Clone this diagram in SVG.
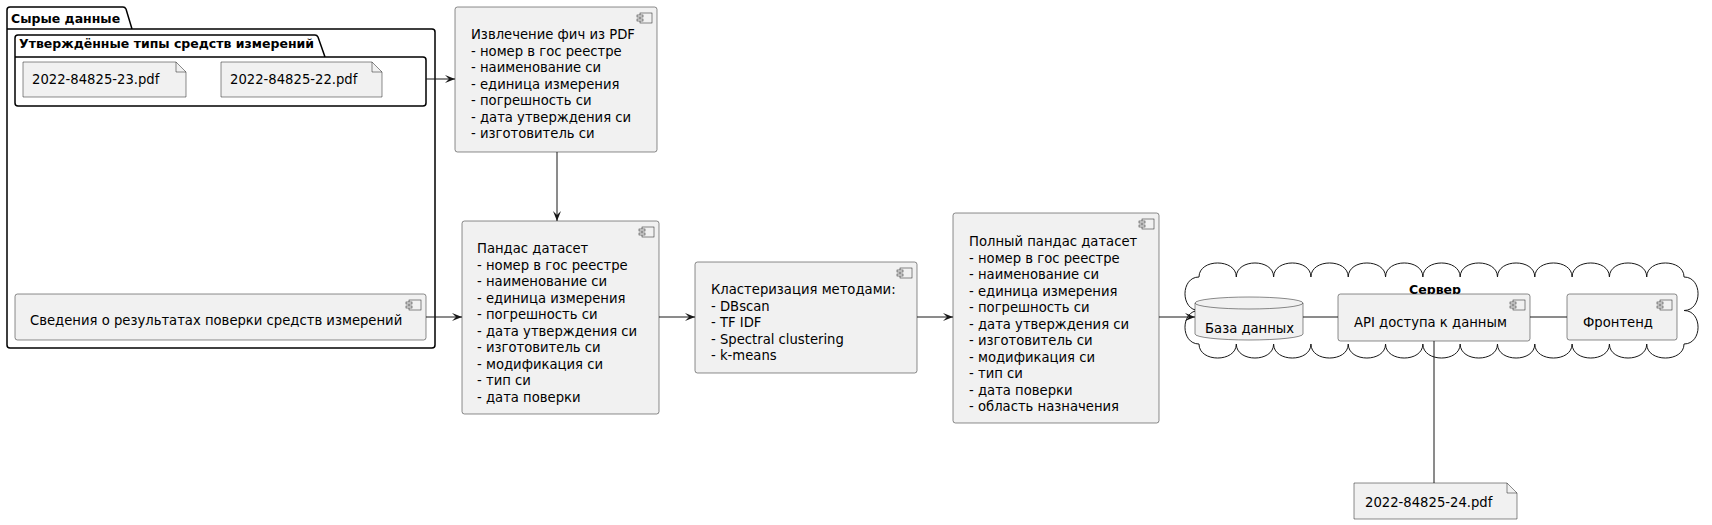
<svg xmlns="http://www.w3.org/2000/svg" width="1712" height="525" viewBox="0 0 1712 525">
<style>
.t{font-family:"DejaVu Sans",Verdana,sans-serif;font-size:13.2px;fill:#000}
.b{font-family:"DejaVu Sans",Verdana,sans-serif;font-size:12.5px;font-weight:bold;fill:#000}
.box{fill:#F1F1F1;stroke:#181818;stroke-width:0.5}
.pkg{fill:none;stroke:#000;stroke-width:1.5}
.ln{fill:none;stroke:#181818;stroke-width:1}
.ic{fill:#F1F1F1;stroke:#181818;stroke-width:0.5}
</style>
<defs>
<marker id="arr" viewBox="0 0 10 8" refX="10" refY="4" markerWidth="10" markerHeight="8" markerUnits="userSpaceOnUse" orient="auto">
<path d="M0,0 L10,4 L0,8 L4,4 Z" fill="#181818"/>
</marker>
<g id="icon">
<rect x="-17" y="6" width="12" height="10" class="ic"/>
<rect x="-20" y="8" width="6" height="2" class="ic"/>
<rect x="-20" y="12" width="6" height="2" class="ic"/>
</g>
</defs>
<rect width="1712" height="525" fill="#fff"/>

<g id="pkg-raw">
<path class="pkg" d="M10,7 L123,7 Q125,7 126,9 L132,29 L432,29 Q435,29 435,32 L435,345 Q435,348 432,348 L10,348 Q7,348 7,345 L7,10 Q7,7 10,7 Z M7,29 L132,29"/>
<text class="b" x="11" y="23">Сырые данные</text>
</g>
<g id="pkg-types">
<path class="pkg" d="M18,35 L315,35 Q317,35 318,37 L325,57 L423,57 Q426,57 426,60 L426,103 Q426,106 423,106 L18,106 Q15,106 15,103 L15,38 Q15,35 18,35 Z M15,57 L325,57"/>
<text class="b" x="19" y="48">Утверждённые типы средств измерений</text>
</g>
<g id="note-23">
<path class="box" d="M23,62 L176,62 L186,72 L186,97 L23,97 Z"/>
<path class="ln" style="stroke-width:0.5" d="M176,62 L176,72 L186,72"/>
<text class="t" x="32" y="84">2022-84825-23.pdf</text>
</g>
<g id="note-22">
<path class="box" d="M221,62 L372,62 L382,72 L382,97 L221,97 Z"/>
<path class="ln" style="stroke-width:0.5" d="M372,62 L372,72 L382,72"/>
<text class="t" x="230" y="84">2022-84825-22.pdf</text>
</g>
<g id="svedeniya">
<rect class="box" x="15" y="294" width="411" height="46" rx="2.5"/>
<use href="#icon" x="426" y="294"/>
<text class="t" x="30" y="325">Сведения о результатах поверки средств измерений</text>
</g>
<g id="extract">
<rect class="box" x="455" y="7" width="202" height="145" rx="2.5"/>
<use href="#icon" x="657" y="7"/>
<text class="t" x="471" y="39">Извлечение фич из PDF<tspan x="471" dy="16.5">- номер в гос реестре</tspan><tspan x="471" dy="16.5">- наименование си</tspan><tspan x="471" dy="16.5">- единица измерения</tspan><tspan x="471" dy="16.5">- погрешность си</tspan><tspan x="471" dy="16.5">- дата утверждения си</tspan><tspan x="471" dy="16.5">- изготовитель си</tspan></text>
</g>
<g id="pandas">
<rect class="box" x="462" y="221" width="197" height="193" rx="2.5"/>
<use href="#icon" x="659" y="221"/>
<text class="t" x="477" y="253">Пандас датасет<tspan x="477" dy="16.5">- номер в гос реестре</tspan><tspan x="477" dy="16.5">- наименование си</tspan><tspan x="477" dy="16.5">- единица измерения</tspan><tspan x="477" dy="16.5">- погрешность си</tspan><tspan x="477" dy="16.5">- дата утверждения си</tspan><tspan x="477" dy="16.5">- изготовитель си</tspan><tspan x="477" dy="16.5">- модификация си</tspan><tspan x="477" dy="16.5">- тип си</tspan><tspan x="477" dy="16.5">- дата поверки</tspan></text>
</g>
<g id="cluster">
<rect class="box" x="695" y="262" width="222" height="111" rx="2.5"/>
<use href="#icon" x="917" y="262"/>
<text class="t" x="711" y="294">Кластеризация методами:<tspan x="711" dy="16.5">- DBscan</tspan><tspan x="711" dy="16.5">- TF IDF</tspan><tspan x="711" dy="16.5">- Spectral clustering</tspan><tspan x="711" dy="16.5">- k-means</tspan></text>
</g>
<g id="full">
<rect class="box" x="953" y="213" width="206" height="210" rx="2.5"/>
<use href="#icon" x="1159" y="213"/>
<text class="t" x="969" y="246">Полный пандас датасет<tspan x="969" dy="16.5">- номер в гос реестре</tspan><tspan x="969" dy="16.5">- наименование си</tspan><tspan x="969" dy="16.5">- единица измерения</tspan><tspan x="969" dy="16.5">- погрешность си</tspan><tspan x="969" dy="16.5">- дата утверждения си</tspan><tspan x="969" dy="16.5">- изготовитель си</tspan><tspan x="969" dy="16.5">- модификация си</tspan><tspan x="969" dy="16.5">- тип си</tspan><tspan x="969" dy="16.5">- дата поверки</tspan><tspan x="969" dy="16.5">- область назначения</tspan></text>
</g>
<g id="server">
<path fill="#fff" stroke="#181818" stroke-width="1" d="M1199,277 c0,-18.7 37.31,-18.7 37.31,0 c0,-18.7 37.31,-18.7 37.31,0 c0,-18.7 37.31,-18.7 37.31,0 c0,-18.7 37.31,-18.7 37.31,0 c0,-18.7 37.31,-18.7 37.31,0 c0,-18.7 37.31,-18.7 37.31,0 c0,-18.7 37.31,-18.7 37.31,0 c0,-18.7 37.31,-18.7 37.31,0 c0,-18.7 37.31,-18.7 37.31,0 c0,-18.7 37.31,-18.7 37.31,0 c0,-18.7 37.31,-18.7 37.31,0 c0,-18.7 37.31,-18.7 37.31,0 c0,-18.7 37.31,-18.7 37.31,0 c18.7,0 18.7,33.5 0,33.5 c18.7,0 18.7,33.5 0,33.5 c0,18.7 -37.31,18.7 -37.31,0 c0,18.7 -37.31,18.7 -37.31,0 c0,18.7 -37.31,18.7 -37.31,0 c0,18.7 -37.31,18.7 -37.31,0 c0,18.7 -37.31,18.7 -37.31,0 c0,18.7 -37.31,18.7 -37.31,0 c0,18.7 -37.31,18.7 -37.31,0 c0,18.7 -37.31,18.7 -37.31,0 c0,18.7 -37.31,18.7 -37.31,0 c0,18.7 -37.31,18.7 -37.31,0 c0,18.7 -37.31,18.7 -37.31,0 c0,18.7 -37.31,18.7 -37.31,0 c0,18.7 -37.31,18.7 -37.31,0 c-18.7,0 -18.7,-33.5 0,-33.5 c-18.7,0 -18.7,-33.5 0,-33.5 Z"/>
<text class="b" x="1435" y="294" text-anchor="middle">Сервер</text>
</g>
<g id="db">
<path class="box" d="M1195,303 A54,6 0 0 1 1303,303 L1303,334 A54,6 0 0 1 1195,334 Z"/>
<path class="ln" style="stroke-width:0.5" d="M1195,303 A54,6 0 0 0 1303,303"/>
<text class="t" x="1205" y="333">База данных</text>
</g>
<g id="api">
<rect class="box" x="1338" y="294" width="192" height="47" rx="2.5"/>
<use href="#icon" x="1530" y="294"/>
<text class="t" x="1354" y="327">API доступа к данным</text>
</g>
<g id="frontend">
<rect class="box" x="1567" y="294" width="110" height="46" rx="2.5"/>
<use href="#icon" x="1677" y="294"/>
<text class="t" x="1583" y="327">Фронтенд</text>
</g>
<g id="note-24">
<path class="box" d="M1354,483 L1507,483 L1517,493 L1517,519 L1354,519 Z"/>
<path class="ln" style="stroke-width:0.5" d="M1507,483 L1507,493 L1517,493"/>
<text class="t" x="1365" y="507">2022-84825-24.pdf</text>
</g>

<g id="connectors">
<path class="ln" d="M426,79 L455,79" marker-end="url(#arr)"/>
<path class="ln" d="M557,152 L557,221" marker-end="url(#arr)"/>
<path class="ln" d="M426,317 L462,317" marker-end="url(#arr)"/>
<path class="ln" d="M659,317 L695,317" marker-end="url(#arr)"/>
<path class="ln" d="M917,317 L953,317" marker-end="url(#arr)"/>
<path class="ln" d="M1159,317 L1195,317" marker-end="url(#arr)"/>
<path class="ln" d="M1303,317 L1338,317"/>
<path class="ln" d="M1530,317 L1567,317"/>
<path class="ln" d="M1434,341 L1434,483"/>
</g>
</svg>
